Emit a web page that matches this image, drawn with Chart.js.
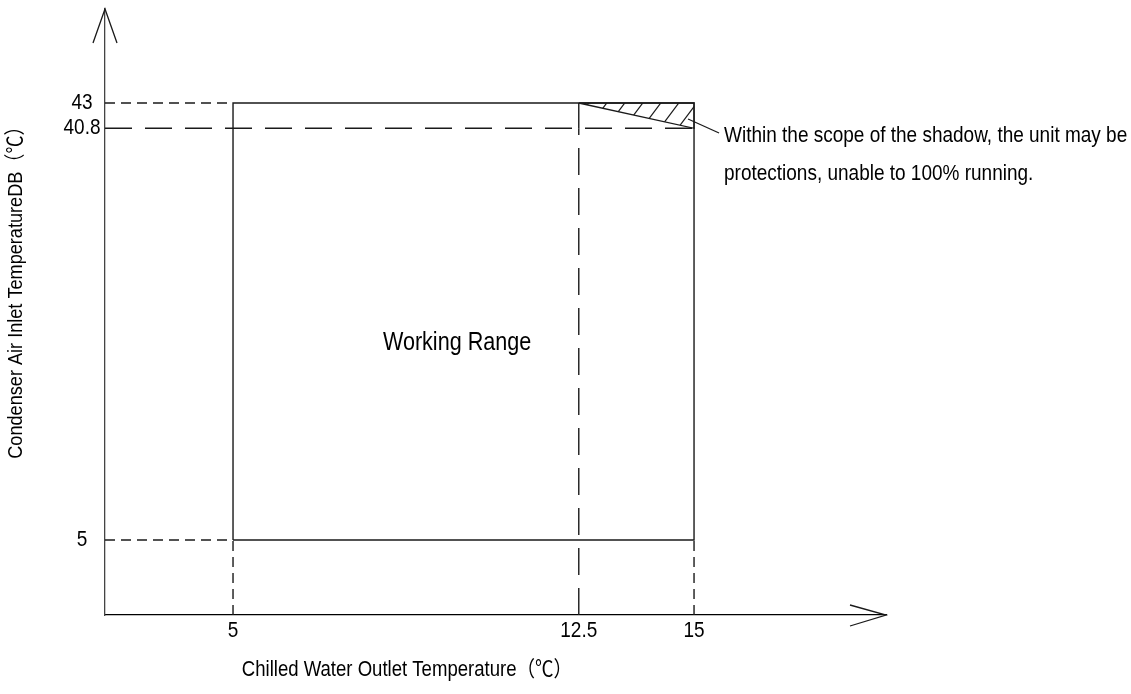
<!DOCTYPE html>
<html>
<head>
<meta charset="utf-8">
<script src="https://cdn.jsdelivr.net/npm/chart.js@4/dist/chart.umd.min.js"></script>
<style>
html, body { margin: 0; padding: 0; background: #fff; }
#wrap { width: 1131px; height: 694px; }
</style>
</head>
<body>
<div id="wrap"><canvas id="chart"></canvas></div>
<script>
// --- Operating limits ---
const xTicks = [5, 12.5, 15];          // chilled water outlet (°C)
const yTicks = [5, 40.8, 43];          // condenser air inlet DB (°C)
const waterRange = [5, 15];            // min / max water outlet
const airRange = [5, 43];              // min / max air inlet
const shadowStart = 12.5;              // shaded corner starts here (x)
const shadowLow = 40.8;                // shaded corner drops to here (y)
const axisX = [2.223, 19.164];         // visible x extent
const axisY = [-1.522, 51.174];        // visible y extent
const labelAt = [9.86, 22.13];         // "Working Range" label
const noteAt = [14.87, 41.61];         // leader line start, inside the shadow

const ink = '#1a1a1a';
const fam = '"Liberation Sans", Arial, "Noto Sans CJK SC", sans-serif';
const narrow = 0.863;                  // squeeze to look like a narrow face
const shortDash = [10, 6];
const longDash = [27, 13];

// diagonal hatch for the shaded triangle
function makeHatch() {
    const c = document.createElement('canvas');
    c.width = 18; c.height = 24;
    const g = c.getContext('2d');
    g.strokeStyle = ink;
    g.lineWidth = 1.2;
    for (const off of [-18, 0, 18]) {
        g.beginPath();
        g.moveTo(off - 2, 24 + 2 * 24 / 18);
        g.lineTo(off + 20, -2 * 24 / 18);
        g.stroke();
    }
    return g.createPattern(c, 'repeat');
}

const seg = (pts, dash) => ({
    data: pts.map(([x, y]) => ({ x, y })),
    showLine: true,
    borderColor: ink,
    borderWidth: 1.4,
    borderDash: dash || [],
    pointRadius: 0,
    fill: false
});

const [x0] = axisX, [y0] = axisY;
const [wMin, wMax] = waterRange, [aMin, aMax] = airRange;

const datasets = [
    {
        data: [{ x: shadowStart, y: aMax }, { x: wMax, y: aMax }, { x: wMax, y: shadowLow }, { x: shadowStart, y: aMax }],
        showLine: true,
        fill: 'shape',
        backgroundColor: makeHatch(),
        borderColor: ink,
        borderWidth: 1.3,
        pointRadius: 0
    },
    seg([[wMin, aMin], [wMin, aMax], [wMax, aMax], [wMax, aMin], [wMin, aMin]]),
    seg([[shadowStart, aMax], [shadowStart, shadowLow]]),
    seg([[x0, aMax], [wMin, aMax]], shortDash),
    seg([[x0, aMin], [wMin, aMin]], shortDash),
    seg([[wMin, y0], [wMin, aMin]], shortDash),
    seg([[wMax, y0], [wMax, aMin]], shortDash),
    seg([[x0, shadowLow], [wMax, shadowLow]], longDash),
    seg([[shadowStart, y0], [shadowStart, shadowLow]], longDash)
];

// text squeezed horizontally around its anchor
function say(ctx, text, x, y, size, align, baseline) {
    ctx.save();
    ctx.translate(x, y);
    ctx.scale(narrow, 1);
    ctx.font = size + 'px ' + fam;
    ctx.textAlign = align;
    ctx.textBaseline = baseline;
    ctx.fillText(text, 0, 0);
    ctx.restore();
}

// arrows, tick labels, axis titles and the text notes
const notes = {
    id: 'notes',
    afterDraw(chart) {
        const { ctx, chartArea: a, scales: { x, y } } = chart;
        ctx.save();
        ctx.strokeStyle = ink;
        ctx.lineWidth = 1.3;
        ctx.beginPath();
        ctx.moveTo(a.left - 12, a.top + 34); ctx.lineTo(a.left, a.top); ctx.lineTo(a.left + 12, a.top + 34);
        ctx.moveTo(a.right - 36, a.bottom - 10); ctx.lineTo(a.right, a.bottom); ctx.lineTo(a.right - 36, a.bottom + 11);
        ctx.stroke();

        ctx.fillStyle = '#000';
        x.ticks.forEach(t => say(ctx, String(t.value), x.getPixelForValue(t.value), a.bottom + 5, 22, 'center', 'top'));
        y.ticks.forEach(t => say(ctx, String(t.value), a.left - 23, y.getPixelForValue(t.value), 22, 'center', 'middle'));

        say(ctx, 'Chilled Water Outlet Temperature（℃）', 407, 670, 21.5, 'center', 'middle');
        ctx.save();
        ctx.translate(16, 288);
        ctx.rotate(-Math.PI / 2);
        say(ctx, 'Condenser Air Inlet TemperatureDB（℃）', 0, 0, 21, 'center', 'middle');
        ctx.restore();

        say(ctx, 'Working Range', x.getPixelForValue(labelAt[0]), y.getPixelForValue(labelAt[1]), 25, 'center', 'middle');

        const sx = x.getPixelForValue(noteAt[0]), sy = y.getPixelForValue(noteAt[1]);
        ctx.beginPath();
        ctx.moveTo(sx, sy);
        ctx.lineTo(sx + 31, sy + 14);
        ctx.stroke();
        say(ctx, 'Within the scope of the shadow, the unit may be', sx + 36, sy + 23, 22, 'left', 'alphabetic');
        say(ctx, 'protections, unable to 100% running.', sx + 36, sy + 61, 22, 'left', 'alphabetic');
        ctx.restore();
    }
};

new Chart(document.getElementById('chart'), {
    type: 'scatter',
    data: { datasets },
    options: {
        responsive: true,
        maintainAspectRatio: false,
        animation: false,
        layout: { padding: { top: 9, right: 245, left: 0, bottom: 0 } },
        plugins: { legend: { display: false }, tooltip: { enabled: false } },
        scales: {
            x: {
                type: 'linear',
                min: axisX[0],
                max: axisX[1],
                grid: { display: false, drawTicks: false },
                border: { display: true, color: '#000', width: 1.3 },
                ticks: { display: false },
                afterBuildTicks: s => { s.ticks = xTicks.map(v => ({ value: v })); },
                afterFit: s => { s.height = 79; }
            },
            y: {
                type: 'linear',
                min: axisY[0],
                max: axisY[1],
                grid: { display: false, drawTicks: false },
                border: { display: true, color: '#444', width: 1.3 },
                ticks: { display: false },
                afterBuildTicks: s => { s.ticks = yTicks.map(v => ({ value: v })); },
                afterFit: s => { s.width = 105; }
            }
        }
    },
    plugins: [notes]
});
</script>
</body>
</html>
